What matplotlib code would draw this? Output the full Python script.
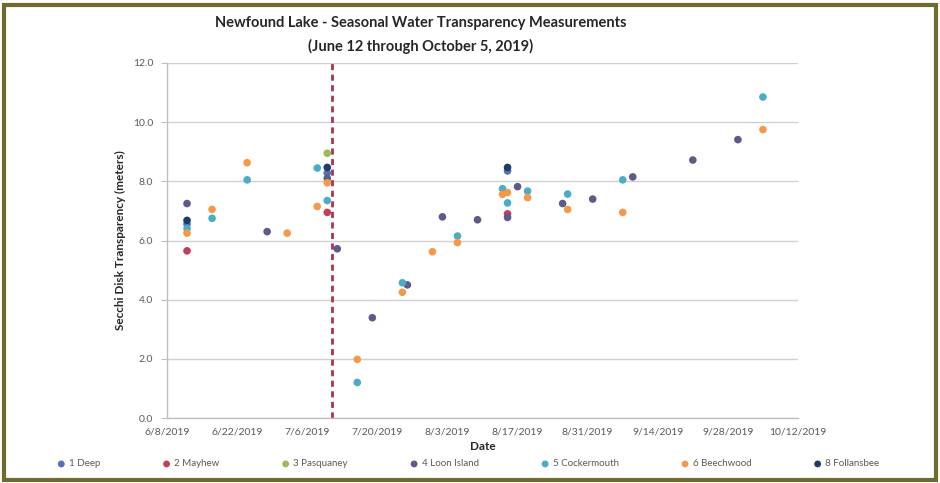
import matplotlib
matplotlib.use("Agg")
import matplotlib.pyplot as plt
import pandas as pd
from matplotlib.patches import Rectangle

plt.rcParams['font.family'] = ['Lato', 'DejaVu Sans']

# ---------------- data ----------------
deep_dates = ['2019-06-12', '2019-07-10', '2019-08-15']
deep_vals = [6.55, 8.28, 8.35]

mayhew_dates = ['2019-06-12', '2019-07-10', '2019-08-15']
mayhew_vals = [5.65, 6.95, 6.9]

pasquaney_dates = ['2019-07-10']
pasquaney_vals = [8.95]

loon_dates = ['2019-06-12', '2019-06-28', '2019-07-10', '2019-07-12', '2019-07-19',
              '2019-07-26', '2019-08-02', '2019-08-09', '2019-08-15', '2019-08-17',
              '2019-08-26', '2019-09-01', '2019-09-09', '2019-09-21', '2019-09-30']
loon_vals = [7.25, 6.3, 8.1, 5.72, 3.39, 4.5, 6.8, 6.7, 6.78, 7.82, 7.25, 7.4, 8.15, 8.72, 9.41]

cocker_dates = ['2019-06-12', '2019-06-17', '2019-06-24', '2019-07-08', '2019-07-10',
                '2019-07-16', '2019-07-25', '2019-08-05', '2019-08-14', '2019-08-15',
                '2019-08-19', '2019-08-27', '2019-09-07', '2019-10-05']
cocker_vals = [6.4, 6.75, 8.05, 8.45, 7.35, 1.2, 4.57, 6.15, 7.75, 7.27, 7.67, 7.57, 8.05, 10.85]

beech_dates = ['2019-06-12', '2019-06-17', '2019-06-24', '2019-07-02', '2019-07-08',
               '2019-07-10', '2019-07-16', '2019-07-25', '2019-07-31', '2019-08-05',
               '2019-08-14', '2019-08-15', '2019-08-19', '2019-08-27', '2019-09-07',
               '2019-10-05']
beech_vals = [6.25, 7.05, 8.63, 6.25, 7.15, 7.95, 1.98, 4.25, 5.62, 5.93,
              7.56, 7.62, 7.45, 7.05, 6.95, 9.75]

follans_dates = ['2019-06-12', '2019-07-10', '2019-08-15']
follans_vals = [6.68, 8.47, 8.47]

series_names = ['1 Deep', '2 Mayhew', '3 Pasquaney', '4 Loon Island',
                '5 Cockermouth', '6 Beechwood', '8 Follansbee']
series_dates = [deep_dates, mayhew_dates, pasquaney_dates, loon_dates,
                cocker_dates, beech_dates, follans_dates]
series_vals = [deep_vals, mayhew_vals, pasquaney_vals, loon_vals,
               cocker_vals, beech_vals, follans_vals]
series_colors = ['#4f72b8', '#c0405a', '#9bbb59', '#5d5a8c',
                 '#4bacc6', '#f39a4a', '#1f3b66']

tick_dates = ['2019-06-08', '2019-06-22', '2019-07-06', '2019-07-20', '2019-08-03',
              '2019-08-17', '2019-08-31', '2019-09-14', '2019-09-28', '2019-10-12']
tick_labels = ['6/8/2019', '6/22/2019', '7/6/2019', '7/20/2019', '8/3/2019',
               '8/17/2019', '8/31/2019', '9/14/2019', '9/28/2019', '10/12/2019']
y_ticks = [0, 2, 4, 6, 8, 10, 12]
y_labels = ['0.0', '2.0', '4.0', '6.0', '8.0', '10.0', '12.0']
marker_date = '2019-07-11'

# ---------------- figure ----------------
W, H = 940, 483
fig = plt.figure(figsize=(W / 100, H / 100), dpi=100)
fig.patch.set_facecolor('white')

ax = fig.add_axes([167 / W, (H - 418) / H, 631 / W, 355 / H])

for name, d, v, c in zip(series_names, series_dates, series_vals, series_colors):
    ax.scatter(pd.to_datetime(d), v, s=30, color=c, label=name, zorder=3,
               edgecolors='none')

md = pd.to_datetime(marker_date)
ax.plot([md, md], [0, 12], color='#a8364f', lw=2, linestyle=(0, (2.2, 1.6)), zorder=2)

ax.set_xlim(pd.Timestamp(tick_dates[0]), pd.Timestamp(tick_dates[-1]))
ax.set_ylim(0, 12)
ax.set_xticks(pd.to_datetime(tick_dates))
ax.set_xticklabels(tick_labels)
ax.set_yticks(y_ticks)
ax.set_yticklabels(y_labels)
ax.tick_params(axis='both', labelsize=7.5, colors='#bfbfbf', labelcolor='#595959')
ax.tick_params(axis='x', length=0, pad=7)
ax.tick_params(axis='y', length=4, pad=6)

ax.grid(axis='y', color='#d0d0d0', lw=1)
ax.set_axisbelow(True)
for s in ['top', 'right']:
    ax.spines[s].set_visible(False)
for s in ['left', 'bottom']:
    ax.spines[s].set_color('#bfbfbf')
    ax.spines[s].set_linewidth(1)

ax.set_xlabel('Date', fontsize=8.5, fontweight='bold', color='#262626', labelpad=3)
ax.set_ylabel('Secchi Disk Transparency (meters)', fontsize=8.5, fontweight='bold',
              color='#262626', labelpad=5)

fig.text(421 / W, 1 - 23 / H, 'Newfound Lake - Seasonal Water Transparency Measurements',
         ha='center', va='center', fontsize=10.5, fontweight='bold', color='#262626')
fig.text(421 / W, 1 - 46 / H, '(June 12 through October 5, 2019)',
         ha='center', va='center', fontsize=10.5, fontweight='bold', color='#262626')

handles, labels = ax.get_legend_handles_labels()
leg = fig.legend(handles, labels, loc='center', bbox_to_anchor=(468 / W, (H - 464) / H),
                 ncol=7, frameon=False, fontsize=7, columnspacing=6.3,
                 handletextpad=0.3, handlelength=1.0, markerscale=0.9)
for t in leg.get_texts():
    t.set_color('#595959')

fig.patches.append(Rectangle((4 / W, 3 / H), (W - 8) / W, (H - 8) / H,
                             transform=fig.transFigure, fill=False,
                             edgecolor='#6e6b2c', lw=3, zorder=10))

fig.savefig('out.png', dpi=100)
